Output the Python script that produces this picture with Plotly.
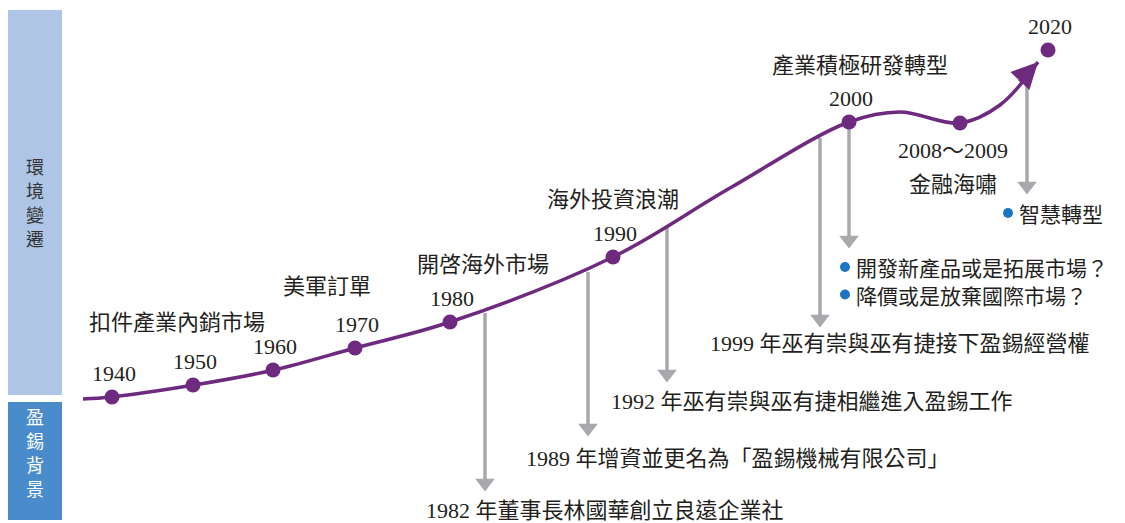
import plotly.graph_objects as go

# ---- data (diagram coordinate space: x to the right, y downward) ----
curve_x = [83, 111, 194, 274, 355, 450, 613, 730, 849, 900, 960, 1000, 1038]
curve_y = [399, 397, 385, 370, 348, 322, 257, 188, 122, 112, 123, 105, 62]

years = ["1940", "1950", "1960", "1970", "1980", "1990", "2000", "", "2020"]
year_x = [112, 193, 273, 355, 450, 613, 849, 960, 1048]
year_y = [397, 385, 370, 348, 322, 257, 122, 123, 50]

era_labels = ["扣件產業內銷市場", "美軍訂單", "開啓海外市場", "海外投資浪潮", "產業積極研發轉型"]
era_x = [177, 327, 483, 613, 860]
era_y = [320, 284, 262, 197, 63]

event_labels = [
    "1982 年董事長林國華創立良遠企業社",
    "1989 年增資並更名為「盈錫機械有限公司」",
    "1992 年巫有崇與巫有捷相繼進入盈錫工作",
    "1999 年巫有崇與巫有捷接下盈錫經營權",
]
arrow_x = [485, 588, 667, 820, 849, 1027]
arrow_top = [313, 272, 227, 138, 128, 80]
arrow_tip = [490, 435, 381, 326, 247, 193]
event_x = [605, 738, 812, 900]
event_y = [510, 458, 401, 343]

bullets = ["開發新產品或是拓展市場？", "降價或是放棄國際市場？", "智慧轉型"]
bullet_x = [845, 845, 1008]
bullet_y = [267, 294.5, 213]

side_top = ["環", "境", "變", "遷"]
side_bottom = ["盈", "錫", "背", "景"]

PURPLE = "#6d2a7e"
GRAY = "#a8a9ad"
TEXT = "#231f20"
SERIF_CJK = "Liberation Serif, Noto Sans CJK TC"
CJK = "Noto Sans CJK TC"
FS = 22

fig = go.Figure()

# gray arrows (shafts)
for x, t, b in zip(arrow_x, arrow_top, arrow_tip):
    fig.add_trace(go.Scatter(x=[x, x], y=[t, b - 8], mode="lines",
                             line=dict(color=GRAY, width=3.5),
                             hoverinfo="skip", showlegend=False))
# gray arrowheads
fig.add_trace(go.Scatter(x=arrow_x, y=[b - 7 for b in arrow_tip], mode="markers",
                         marker=dict(symbol="triangle-down", size=17, color=GRAY),
                         hoverinfo="skip", showlegend=False))

# purple curve
fig.add_trace(go.Scatter(x=curve_x, y=curve_y, mode="lines",
                         line=dict(color=PURPLE, width=3.5, shape="spline", smoothing=1.0),
                         hoverinfo="skip", showlegend=False))
# arrowhead at curve end
fig.add_annotation(x=curve_x[-1], y=curve_y[-1], ax=curve_x[-2] + 18, ay=curve_y[-2] - 22,
                   xref="x", yref="y", axref="x", ayref="y", showarrow=True,
                   arrowhead=2, arrowsize=1.5, arrowwidth=3.5, arrowcolor=PURPLE, text="")

# milestone dots
fig.add_trace(go.Scatter(x=year_x, y=year_y, mode="markers",
                         marker=dict(size=15, color=PURPLE),
                         hoverinfo="skip", showlegend=False))

# year labels
for lab, x, y in zip(years, year_x, year_y):
    if lab:
        fig.add_annotation(x=x + 2, y=y - 24, text=lab, showarrow=False,
                           font=dict(family="Liberation Serif", size=FS, color=TEXT))
fig.add_annotation(x=953, y=150, text="2008～2009", showarrow=False,
                   font=dict(family=SERIF_CJK, size=FS, color=TEXT))
fig.add_annotation(x=953, y=182, text="金融海嘯", showarrow=False,
                   font=dict(family=CJK, size=FS, color=TEXT))

# era labels
for lab, x, y in zip(era_labels, era_x, era_y):
    fig.add_annotation(x=x, y=y, text=lab, showarrow=False,
                       font=dict(family=CJK, size=FS, color=TEXT))

# event labels
for lab, x, y in zip(event_labels, event_x, event_y):
    fig.add_annotation(x=x, y=y, text=lab, showarrow=False, borderpad=0,
                       font=dict(family=SERIF_CJK, size=FS, color=TEXT))

# bullets
fig.add_trace(go.Scatter(x=bullet_x, y=bullet_y, mode="markers",
                         marker=dict(size=10, color="#1b75c4"),
                         hoverinfo="skip", showlegend=False))
for lab, x, y in zip(bullets, bullet_x, bullet_y):
    fig.add_annotation(x=x + 10, y=y, text=lab, showarrow=False, xanchor="left", borderpad=0,
                       font=dict(family=CJK, size=21, color=TEXT))

# sidebar
fig.add_shape(type="rect", xref="x", yref="y", x0=8, x1=62, y0=10, y1=395,
              fillcolor="#aec5e5", line_width=0, layer="below")
fig.add_shape(type="rect", xref="x", yref="y", x0=8, x1=62, y0=402, y1=520,
              fillcolor="#4a8ccb", line_width=0, layer="below")
for i, ch in enumerate(side_top):
    fig.add_annotation(x=35, y=166 + 24 * i, text=ch, showarrow=False, borderpad=0,
                       font=dict(family=CJK, size=18, color="#333"))
for i, ch in enumerate(side_bottom):
    fig.add_annotation(x=35, y=416 + 24 * i, text=ch, showarrow=False, borderpad=0,
                       font=dict(family=CJK, size=18, color="white"))

fig.update_layout(
    width=1125, height=523,
    margin=dict(l=0, r=0, t=0, b=0),
    paper_bgcolor="white", plot_bgcolor="white",
    xaxis=dict(range=[0, 1125], visible=False, fixedrange=True),
    yaxis=dict(range=[523, 0], visible=False, fixedrange=True),
)

fig.write_html("out.html", config={"displayModeBar": False},
               post_script="document.body.style.margin='0';document.body.style.overflow='hidden';")
